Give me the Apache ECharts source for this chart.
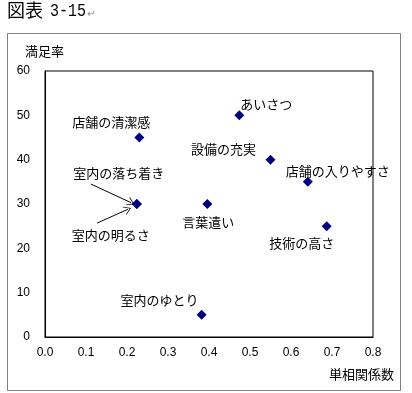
<!DOCTYPE html>
<html><head><meta charset="utf-8">
<script src="https://cdn.jsdelivr.net/npm/echarts@6/dist/echarts.min.js"></script>
<style>html,body{margin:0;padding:0;background:#fff}#c{width:412px;height:393px}</style>
</head><body><div id="c"></div>
<script>
var names = ['店舗の清潔感','あいさつ','設備の充実','店舗の入りやすさ','室内の落ち着き','言葉遣い','室内の明るさ','技術の高さ','室内のゆとり'];
var xValues = [0.23, 0.474, 0.55, 0.641, 0.224, 0.396, 0.224, 0.687, 0.382];
var yValues = [45, 50, 40, 35, 30, 30, 30, 25, 5];
var labelOffsets = [[-28,-15],[27,-11],[-47,-11],[30,-11],[-18,-31],[1,18],[-26,31],[-25,17],[-42,-15]];
// annotation arrows (data coordinates): [startX, startY, endX, endY]
var arrows = [[0.112, 34.5, 0.210, 30.3], [0.127, 25.7, 0.202, 28.8]];
var xTicks = ['0.0','0.1','0.2','0.3','0.4','0.5','0.6','0.7','0.8'];

var jp = '"Noto Sans CJK JP", sans-serif';
var lat = '"Liberation Sans", Arial, sans-serif';
var chart = echarts.init(document.getElementById('c'));
var data = names.map(function(n,i){
  return {value:[xValues[i], yValues[i]], name:n,
    label:{show:true, formatter:n, position:'inside', offset:labelOffsets[i],
      fontFamily:jp, fontSize:13, color:'#000'}};
});
chart.setOption({
  animation:false,
  graphic:[
    {type:'rect', shape:{x:7.5,y:33.5,width:393,height:357}, style:{fill:'none',stroke:'#808080',lineWidth:1}, z:-1},
    {type:'text', x:7, y:1, style:{text:'図表', fontFamily:'"Noto Sans CJK JP"', fontSize:18, fill:'#000'}},
    {type:'text', x:50, y:2, scaleY:1.25, style:{text:'3-15', fontFamily:'"Liberation Mono"', fontSize:15, fill:'#000'}},
    {type:'text', x:87, y:8, style:{text:'↵', fontFamily:jp, fontSize:10, fill:'#888'}},
    {type:'text', x:25, y:45, style:{text:'満足率', fontFamily:'"Noto Sans CJK JP"', fontSize:13, fill:'#000'}},
    {type:'text', right:18, top:368, style:{text:'単相関係数', fontFamily:'"Noto Sans CJK JP"', fontSize:13, fill:'#000'}}
  ],
  grid:{left:45, right:39, top:71, bottom:56, show:true, borderColor:'#000', borderWidth:1, backgroundColor:'#fff'},
  xAxis:{type:'value', min:0, max:0.8, interval:0.1,
    axisLine:{show:true, lineStyle:{color:'#000'}}, axisTick:{show:false}, splitLine:{show:false},
    axisLabel:{margin:10, fontFamily:lat, fontSize:12, color:'#000', formatter:function(v){return xTicks[Math.round(v*10)];}}},
  yAxis:{type:'value', min:0, max:60, interval:10,
    axisLine:{show:true, lineStyle:{color:'#000'}}, axisTick:{show:false}, splitLine:{show:false},
    axisLabel:{margin:15, fontFamily:lat, fontSize:12, color:'#000'}},
  series:[{type:'scatter', symbol:'diamond', symbolSize:10, itemStyle:{color:'#000080', opacity:1},
    data:data,
    markLine:{silent:true, symbol:['none','path://M5,0 L10,10 L9,10 L5,2 L1,10 L0,10 Z'], symbolSize:[9,7], label:{show:false},
      lineStyle:{color:'#000', width:1, type:'solid'},
      data:arrows.map(function(a){return [{coord:[a[0],a[1]]},{coord:[a[2],a[3]]}];})}
  }]
});
</script></body></html>
